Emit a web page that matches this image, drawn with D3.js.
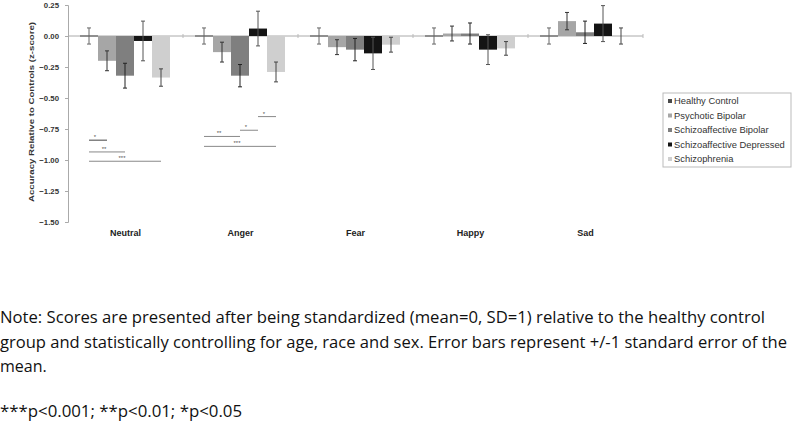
<!DOCTYPE html>
<html><head><meta charset="utf-8">
<script src="https://cdn.jsdelivr.net/npm/d3@7"></script>
<style>body{margin:0;background:#fff}svg{display:block}</style>
</head><body>
<script>
const categories = ["Neutral","Anger","Fear","Happy","Sad"];
const series = ["Healthy Control","Psychotic Bipolar","Schizoaffective Bipolar","Schizoaffective Depressed","Schizophrenia"];
const hcValues = [0, 0, 0, 0, 0];
const pbValues = [-0.20, -0.13, -0.09, 0.02, 0.12];
const sbValues = [-0.32, -0.32, -0.11, 0.02, 0.03];
const sdValues = [-0.04, 0.06, -0.14, -0.11, 0.10];
const szValues = [-0.335, -0.29, -0.07, -0.10, 0.0];
const hcErrors = [0.065, 0.065, 0.065, 0.065, 0.065];
const pbErrors = [0.08, 0.08, 0.06, 0.06, 0.07];
const sbErrors = [0.10, 0.09, 0.09, 0.085, 0.09];
const sdErrors = [0.16, 0.14, 0.13, 0.12, 0.145];
const szErrors = [0.07, 0.08, 0.06, 0.055, 0.065];
const yTicks = [0.25, 0, -0.25, -0.5, -0.75, -1.0, -1.25, -1.5];
const sigCats = ["Neutral","Neutral","Neutral","Anger","Anger","Anger","Anger"];
const sigFrom = ["Healthy Control","Healthy Control","Healthy Control","Schizoaffective Depressed","Schizoaffective Bipolar","Healthy Control","Healthy Control"];
const sigTo = ["Psychotic Bipolar","Schizoaffective Bipolar","Schizophrenia","Schizophrenia","Schizoaffective Depressed","Schizoaffective Bipolar","Schizophrenia"];
const sigLevel = [-0.84, -0.935, -1.01, -0.65, -0.76, -0.81, -0.89];
const sigLabel = ["*","**","***","*","*","**","***"];
const noteLines = [
  "Note: Scores are presented after being standardized (mean=0, SD=1) relative to the healthy control",
  "group and statistically controlling for age, race and sex. Error bars represent +/-1 standard error of the",
  "mean.",
  "***p<0.001; **p<0.01; *p<0.05"
];

const allValues = [hcValues, pbValues, sbValues, sdValues, szValues];
const allErrors = [hcErrors, pbErrors, sbErrors, sdErrors, szErrors];
const colors = ["#4a4a4a", "#a6a6a6", "#7f7f7f", "#141414", "#cfcfcf"];
const errColors = ["#666", "#333", "#222", "#555", "#444"];

const W = 800, H = 424;
const FONT = "Liberation Sans, Arial, sans-serif";
const svg = d3.select("body").append("svg").attr("width", W).attr("height", H);

const y = d3.scaleLinear().domain([-1.5, 0.25]).range([222, 5]);
const x0 = d3.scaleBand().domain(categories).range([68, 643]);
const x1 = d3.scaleBand().domain(series).range([12, 102]);
const color = d3.scaleOrdinal().domain(series).range(colors);

// y axis
const yAxis = d3.axisLeft(y).tickValues(yTicks).tickSize(3).tickFormat(d3.format(".2f"));
const ga = svg.append("g").attr("transform", "translate(68,0)").call(yAxis);
ga.select(".domain").attr("stroke", "#aaa");
ga.selectAll(".tick line").attr("stroke", "#aaa");
ga.selectAll(".tick text").attr("font-family", FONT)
  .attr("font-size", 7.8).attr("font-weight", "bold").attr("fill", "#333").attr("x", -9);

// zero line with category boundary ticks
svg.append("line").attr("x1", 68).attr("x2", 643).attr("y1", y(0)).attr("y2", y(0))
  .attr("stroke", "#aaa").attr("stroke-width", 1);
const bounds = categories.map(c => x0(c) + x0.bandwidth());
svg.selectAll(".bt").data(bounds).enter().append("line")
  .attr("x1", d => d).attr("x2", d => d).attr("y1", y(0) - 2).attr("y2", y(0) + 2)
  .attr("stroke", "#bbb");

// category labels
svg.selectAll(".cl").data(categories).enter().append("text")
  .attr("x", d => x0(d) + x0.bandwidth() / 2).attr("y", 236)
  .attr("text-anchor", "middle").attr("font-family", FONT)
  .attr("font-size", 9).attr("font-weight", "bold").attr("fill", "#222").text(d => d);

// y title
svg.append("text").attr("transform", "translate(34,112) rotate(-90)")
  .attr("text-anchor", "middle").attr("font-family", FONT)
  .attr("font-size", 7.6).attr("font-weight", "bold").attr("fill", "#333")
  .attr("textLength", 180).attr("lengthAdjust", "spacingAndGlyphs")
  .text("Accuracy Relative to Controls (z-score)");

// bars
const data = [];
series.forEach((s, i) => categories.forEach((c, j) => {
  data.push({s, c, v: allValues[i][j], e: allErrors[i][j], i});
}));
const g = svg.append("g");
g.selectAll("rect").data(data).enter().append("rect")
  .attr("x", d => x0(d.c) + x1(d.s))
  .attr("width", x1.bandwidth())
  .attr("y", d => Math.min(y(d.v), y(0)) - (d.v === 0 ? 0.5 : 0))
  .attr("height", d => Math.max(1, Math.abs(y(d.v) - y(0))))
  .attr("fill", d => color(d.s));

// error bars
const eg = svg.append("g");
data.forEach(d => {
  const cx = x0(d.c) + x1(d.s) + x1.bandwidth() / 2;
  const c = errColors[d.i];
  eg.append("line").attr("x1", cx).attr("x2", cx).attr("y1", y(d.v + d.e)).attr("y2", y(d.v - d.e))
    .attr("stroke", c).attr("stroke-width", 1);
  [d.v + d.e, d.v - d.e].forEach(v => eg.append("line")
    .attr("x1", cx - 2).attr("x2", cx + 2).attr("y1", y(v)).attr("y2", y(v))
    .attr("stroke", c).attr("stroke-width", 1));
});

// significance lines
const sg = svg.append("g");
sigCats.forEach((c, k) => {
  const xa = x0(c) + x1(sigFrom[k]) + x1.bandwidth() / 2;
  const xb = x0(c) + x1(sigTo[k]) + x1.bandwidth() / 2;
  const yy = y(sigLevel[k]);
  sg.append("line").attr("x1", xa).attr("x2", xb).attr("y1", yy).attr("y2", yy)
    .attr("stroke", k === 0 ? "#444" : "#888").attr("stroke-width", 1);
  sg.append("text").attr("x", (xa + xb) / 2 - 3).attr("y", yy - 1)
    .attr("text-anchor", "middle").attr("font-family", FONT)
    .attr("font-size", 6).attr("fill", "#555").text(sigLabel[k]);
});

// legend
const lg = svg.append("g");
lg.append("rect").attr("x", 663).attr("y", 93).attr("width", 128).attr("height", 74)
  .attr("fill", "#fff").attr("stroke", "#bbb");
series.forEach((s, i) => {
  const ly = 101 + i * 14.5;
  lg.append("rect").attr("x", 668).attr("y", ly - 2).attr("width", 4).attr("height", 4).attr("fill", color(s));
  lg.append("text").attr("x", 674).attr("y", ly + 3.3)
    .attr("font-family", FONT).attr("font-size", 9.4)
    .attr("fill", "#333").text(s);
});

// notes
const noteY = [323, 348, 372, 417];
const noteW = [765, 787, null, 242];
noteLines.forEach((t, i) => {
  const tx = svg.append("text").attr("x", 0).attr("y", noteY[i])
    .attr("font-family", "Open Sans, Liberation Sans, sans-serif").attr("font-size", 16)
    .attr("fill", "#111").text(t);
  if (noteW[i]) tx.attr("textLength", noteW[i]).attr("lengthAdjust", "spacingAndGlyphs");
});
</script>
</body></html>
